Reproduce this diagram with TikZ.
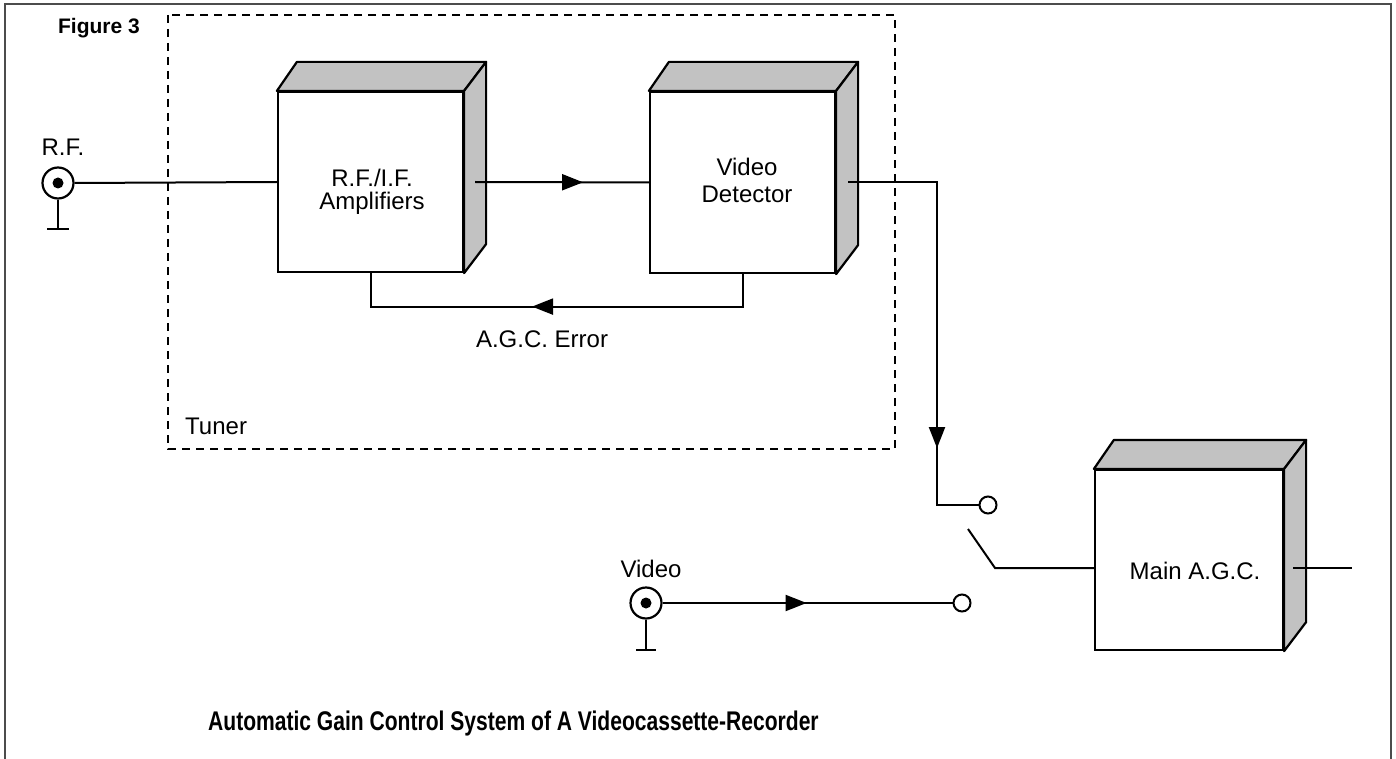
\documentclass[tikz,border=0pt]{standalone}
\usepackage{fontspec}
\setmainfont{Liberation Sans}
\usepackage{graphicx}
\usetikzlibrary{decorations.markings,arrows.meta,calc}
\begin{document}
\begin{tikzpicture}[x=1pt,y=-1pt,
  lbl/.style={font=\fontsize{24}{26}\selectfont, inner sep=0pt, anchor=base},
  frontface/.style={draw, line width=2.2pt, fill=white, inner sep=0pt},
  shadeface/.style={draw, line width=2.2pt, fill=black!24, line join=round},
  wire/.style={line width=2pt},
  contact/.style={circle, draw, line width=2pt, fill=white, minimum size=17pt, inner sep=0pt},
  jack/.style={circle, draw, line width=2.2pt, fill=white, minimum size=31pt, inner sep=0pt},
  arrowat/.style={postaction={decorate, decoration={markings, mark=at position #1 with {\arrow{Triangle[length=21pt,width=16pt]}}}}},
  tunerbox/.style={line width=2.4pt, dash pattern=on 8pt off 6pt}
]
\useasboundingbox (0,0) rectangle (1396,759);
\fill[white] (0,0) rectangle (1396,759);

% outer frame
\draw[black!70, line width=2pt] (5,759) -- (5,4) -- (1391,4) -- (1391,759);

% tuner dashed box
\draw[tunerbox] (168,15) rectangle (895,449);

% 3D boxes
\node[frontface, minimum width=185pt, minimum height=180pt] (amp) at (370.5,182) {};
\node[frontface, minimum width=185pt, minimum height=181pt] (det) at (742.5,182.5) {};
\node[frontface, minimum width=188pt, minimum height=180pt] (agc) at (1189,560) {};
\foreach \b in {amp,det,agc}{
  \draw[shadeface] (\b.north west) -- ++(20,-29) -- ($(\b.north east)+(22,-29)$) -- (\b.north east) -- cycle;
  \draw[shadeface] (\b.north east) -- ++(22,-29) -- ($(\b.south east)+(22,-29)$) -- (\b.south east) -- cycle;
}

% box texts
\node[lbl] (amptxt1) at (372,187) {R.F./I.F.};
\node[lbl] (amptxt2) at (372,210) {Amplifiers};
\node[lbl] (dettxt1) at (747,176) {Video};
\node[lbl] (dettxt2) at (747,203) {Detector};
\node[lbl] (agctxt) at (1195,579) {Main A.G.C.};

% R.F. jack
\node[jack] (rf) at (58,183) {};
\fill (rf.center) circle (5.5pt);
\coordinate (rfgnd) at (58,229);
\draw[wire] (rf.south) -- (rfgnd);
\draw[wire] ($(rfgnd)+(-11,0)$) -- ($(rfgnd)+(11,0)$);
\node[lbl] (rflbl) at (63,156) {R.F.};
\draw[wire] (rf.east) -- (amp.west);

% amp -> detector
\draw[wire, arrowat=108pt] ($(amp.east)+(11,0)$) -- (det.west);

% AGC error feedback
\draw[wire, arrowat=243pt] (det.south) -- ++(0,32.5) -| (amp.south);
\node[lbl] (agcerr) at (542,347) {A.G.C. Error};

% switch
\node[contact] (sw1) at (988,505) {};
\node[contact] (sw2) at (962,603) {};
\coordinate (armL) at (968,529);
\coordinate (armR) at (995,568);
\draw[wire, arrowat=354.5pt] ($(det.east)+(12,0)$) -- (937,182.5) |- (sw1.west);
\draw[wire] (armL) -- (armR) -- (armR -| agc.west);

% video input
\node[jack] (vid) at (646,603) {};
\fill (vid.center) circle (5.5pt);
\coordinate (vidgnd) at (646,650);
\draw[wire] (vid.south) -- (vidgnd);
\draw[wire] ($(vidgnd)+(-10,0)$) -- ($(vidgnd)+(10,0)$);
\node[lbl] (vidlbl) at (651,577) {Video};
\draw[wire, arrowat=144pt] (vid.east) -- (sw2.west);

% main AGC output
\coordinate (agcout) at (1352,568);
\draw[wire] (1293,568) -- (agcout);

% other labels
\node[lbl, anchor=base west] (tuner) at (185,434) {Tuner};
\node[inner sep=0pt, anchor=base, font=\fontsize{21}{23}\selectfont\bfseries] (fig) at (99,34) {Figure 3};
\node[inner sep=0pt, anchor=base west, font=\fontsize{27}{29}\selectfont\bfseries] (title) at (208,730) {\scalebox{0.78}[1]{Automatic Gain Control System of A Videocassette-Recorder}};
\end{tikzpicture}
\end{document}
